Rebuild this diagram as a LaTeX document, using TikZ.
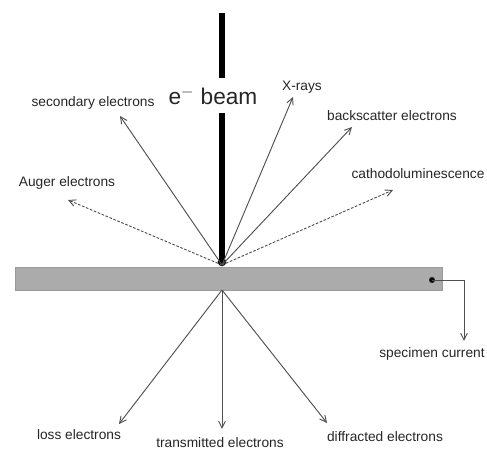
\documentclass[tikz,border=0pt]{standalone}
\usepackage{fontspec}
\setmainfont{Liberation Sans}
\usetikzlibrary{arrows.meta}
\definecolor{arrowgray}{HTML}{505050}
\definecolor{specgray}{HTML}{ABABAB}
\tikzset{
  lbl/.style={font=\fontsize{10.3}{12}\selectfont, inner sep=0pt, text=black!85},
  ray/.style={draw=arrowgray, line width=0.7pt, -{Straight Barb[length=5pt,width=5pt]}},
  dray/.style={ray, dash pattern=on 2pt off 1.2pt},
  beamline/.style={line width=3.8pt, black}
}
\begin{document}
\begin{tikzpicture}[x=0.75pt,y=-0.75pt]
\useasboundingbox (0,0) rectangle (487,449);
% specimen
\node[draw=specgray!90!black, line width=0.3pt, fill=specgray, minimum width=320pt, minimum height=17.25pt, inner sep=0pt, anchor=north west] (spec) at (15,267) {};
% key points
\coordinate (src) at (222,265);
\coordinate (bot) at (222,290);
\coordinate (btop) at (222,13);
\coordinate (bmid1) at (222,78);
\coordinate (bmid2) at (222,113);
\coordinate (bend) at (222,262);
% beam
\draw[beamline] (btop) -- (bmid1);
\draw[beamline] (bmid2) -- (bend);
\fill[black] (bend) circle (3.2pt);
\node[font=\fontsize{17}{19}\selectfont, inner sep=0pt, text=black!85] (beam) at (213,96) {e$^{-}$ beam};
% labels
\node[lbl] (sec) at (93,103) {secondary electrons};
\node[lbl] (aug) at (67,183) {Auger electrons};
\node[lbl] (xr) at (302,87) {X-rays};
\node[lbl] (bs) at (392,116) {backscatter electrons};
\node[lbl] (cl) at (418,174) {cathodoluminescence};
\node[lbl] (sc) at (432,354) {specimen current};
\node[lbl] (loss) at (79,435) {loss electrons};
\node[lbl] (tr) at (220,443) {transmitted electrons};
\node[lbl] (df) at (385,437) {diffracted electrons};
% arrow ends
\coordinate (esec) at (120,116);
\coordinate (eaug) at (68,200);
\coordinate (exr) at (293,97);
\coordinate (ebs) at (352,127);
\coordinate (ecl) at (393,190);
\coordinate (eloss) at (119,424);
\coordinate (etr) at (222,429);
\coordinate (edf) at (327,423);
\coordinate (dot) at (432,280);
\coordinate (corner) at (464,280);
\coordinate (esc) at (464,341);
% upward rays
\draw[ray] (src) -- (esec);
\draw[dray] (src) -- (eaug);
\draw[ray] (src) -- (exr);
\draw[ray] (src) -- (ebs);
\draw[dray] (src) -- (ecl);
% downward rays
\draw[ray] (bot) -- (eloss);
\draw[ray] (bot) -- (etr);
\draw[ray] (bot) -- (edf);
% specimen current
\fill[black] (dot) circle (2.2pt);
\draw[ray] (dot) -- (corner) -- (esc);
\end{tikzpicture}
\end{document}
